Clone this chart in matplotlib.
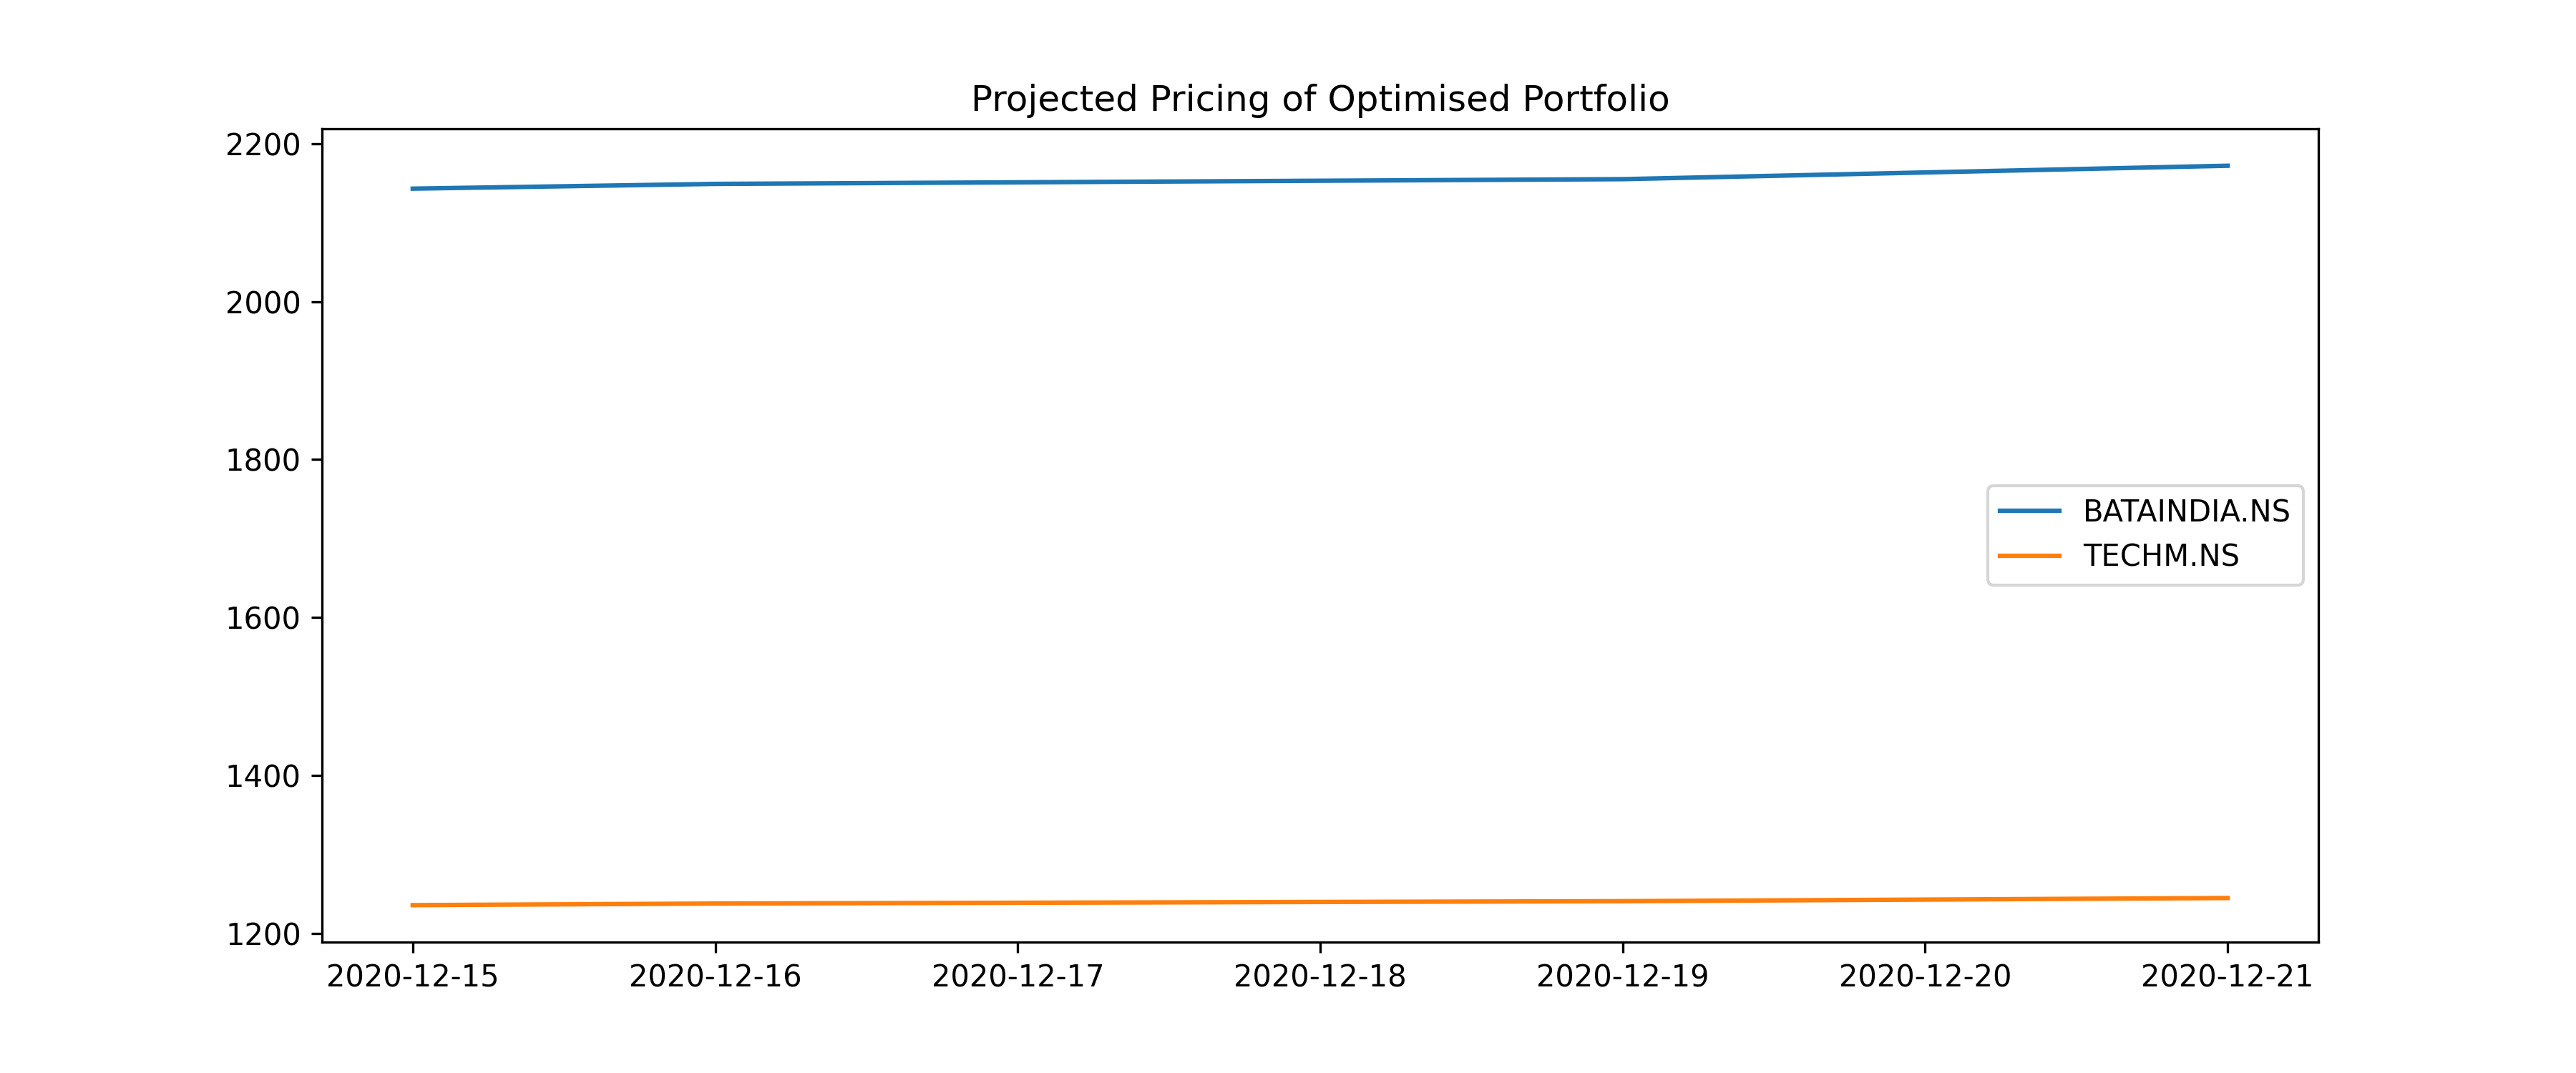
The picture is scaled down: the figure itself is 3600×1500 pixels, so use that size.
import matplotlib
matplotlib.use("Agg")
import matplotlib.pyplot as plt
import pandas as pd

dates = pd.to_datetime(["2020-12-15", "2020-12-16", "2020-12-17", "2020-12-18", "2020-12-19", "2020-12-21"])
bata = [2143, 2149, 2151, 2153, 2155, 2172]
techm = [1236, 1238, 1239, 1240, 1241, 1245]

fig, ax = plt.subplots(figsize=(12, 5))
fig.subplots_adjust(bottom=0.122)
ax.plot(dates, bata, label="BATAINDIA.NS")
ax.plot(dates, techm, label="TECHM.NS")
ax.set_title("Projected Pricing of Optimised Portfolio")
ax.legend(loc="center right")
fig.savefig("out.png", dpi=300)
